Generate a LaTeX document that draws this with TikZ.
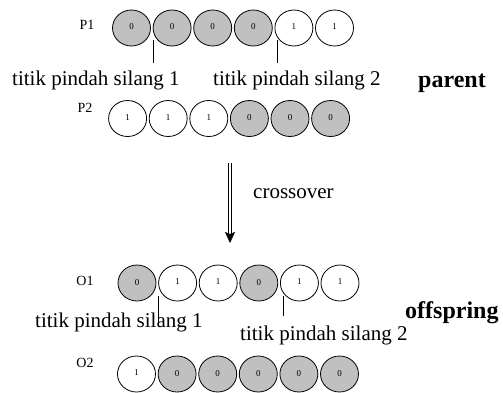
\documentclass[tikz,border=0pt]{standalone}
\usepackage{fontspec}
\setmainfont{Liberation Serif}
\usetikzlibrary{shapes.geometric,arrows.meta}
\definecolor{genegray}{RGB}{192,192,192}
\tikzset{
  gene/.style={ellipse,draw=black,line width=0.8pt,minimum width=38pt,minimum height=36pt,inner sep=0pt,font=\fontsize{9}{9}\selectfont},
  g0/.style={gene,fill=genegray},
  g1/.style={gene,fill=white},
  rowlabel/.style={font=\fontsize{14}{14}\selectfont,inner sep=0pt},
  cutlabel/.style={font=\fontsize{21}{21}\selectfont,inner sep=0pt,anchor=base west},
  grouplabel/.style={font=\fontsize{24}{24}\selectfont\bfseries,inner sep=0pt,anchor=base west},
  tick/.style={line width=0.7pt},
}
\begin{document}
\begin{tikzpicture}[x=1pt,y=-1pt]
\useasboundingbox (0,0) rectangle (503,392);
% rows
\foreach \r/\xo/\yo/\lx/\ly/\vals in {P1/131.5/28/87/25/{0,0,0,0,1,1},P2/127.6/118.5/85/108/{1,1,1,0,0,0},O1/137/283/85/281/{0,1,1,0,1,1},O2/136.5/374/85/363/{1,0,0,0,0,0}}{
  \node[rowlabel] (lab\r) at (\lx,\ly) {\r};
  \foreach \v [count=\i] in \vals {
    \node[g\v] (\r-\i) at ({\xo+40.6*(\i-1)},\yo) {\raisebox{2pt}{\v}};
  }
}
% crossover points parents
\coordinate (pt1a) at (153,40);
\coordinate (pt1b) at (153,63);
\coordinate (pt2a) at (277,40);
\coordinate (pt2b) at (277,63);
\draw[tick] (pt1a) -- (pt1b);
\draw[tick] (pt2a) -- (pt2b);
\node[cutlabel] (pc1) at (12,85) {titik pindah silang 1};
\node[cutlabel] (pc2) at (213,85) {titik pindah silang 2};
\node[grouplabel] (parent) at (418,87) {parent};
% arrow
\coordinate (arA) at (230,163);
\coordinate (arB) at (230,243);
\draw[line width=0.6pt,double,double distance=2.2pt,-{Stealth[length=11pt,width=10pt,inset=2pt]}] (arA) -- (arB);
\node[cutlabel] (cross) at (253,198) {crossover};
% crossover points offspring
\coordinate (ot1a) at (158,296);
\coordinate (ot1b) at (158,323);
\coordinate (ot2a) at (283,296);
\coordinate (ot2b) at (283,316);
\draw[tick] (ot1a) -- (ot1b);
\draw[tick] (ot2a) -- (ot2b);
\node[cutlabel] (oc1) at (35,327) {titik pindah silang 1};
\node[cutlabel] (oc2) at (240,340) {titik pindah silang 2};
\node[grouplabel] (offspring) at (405,318) {offspring};
\end{tikzpicture}
\end{document}
